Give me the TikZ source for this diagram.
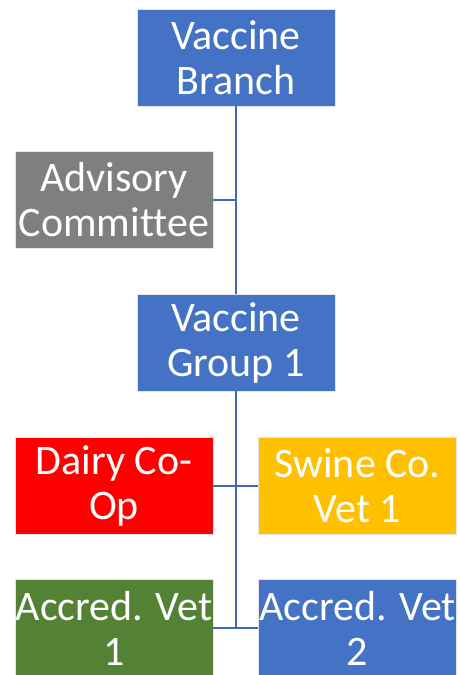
\documentclass[tikz,border=0pt]{standalone}
\usepackage{fontspec}
\setmainfont{Carlito}[Ligatures=NoCommon]
\definecolor{cblue}{HTML}{4472C4}
\definecolor{cgray}{HTML}{7F7F7F}
\definecolor{cred}{HTML}{FF0000}
\definecolor{cyellow}{HTML}{FFC000}
\definecolor{cgreen}{HTML}{548235}
\definecolor{cline}{HTML}{4067B8}
\begin{document}
\begin{tikzpicture}[x=1pt,y=-1pt,
  box/.style={draw=white!90!black, line width=0.6pt, minimum width=198pt, minimum height=97pt,
    inner sep=0pt, align=center, text=white,
    font=\fontsize{42}{45}\selectfont},
  conn/.style={draw=cline, line width=2pt}]
\useasboundingbox (0,0) rectangle (459,675);
\node[box, fill=cblue] (vb) at (236,57.5) {Vaccine\\Branch};
\node[box, fill=cgray] (ac) at (114,200) {Advisory\\Committee};
\node[box, fill=cblue] (vg) at (236,342.5) {Vaccine\\Group 1};
\node[box, fill=cred] (dc) at (114,485.5) {Dairy Co-\\Op};
\node[box, fill=cyellow] (sw) at (357.5,485.5) {Swine Co.\\Vet 1};
\node[box, fill=cgreen] (a1) at (114,628) {Accred. Vet\\1};
\node[box, fill=cblue] (a2) at (357.5,628) {Accred. Vet\\2};
\coordinate (j1) at (236,200);
\coordinate (j2) at (236,628);
\draw[conn] (vb.south) -- (vg.north);
\draw[conn] (ac.east) -- (j1);
\draw[conn] (vg.south) -- (j2);
\draw[conn] (dc.east) -- (sw.west);
\draw[conn] (a1.east) -- (a2.west);
\end{tikzpicture}
\end{document}
